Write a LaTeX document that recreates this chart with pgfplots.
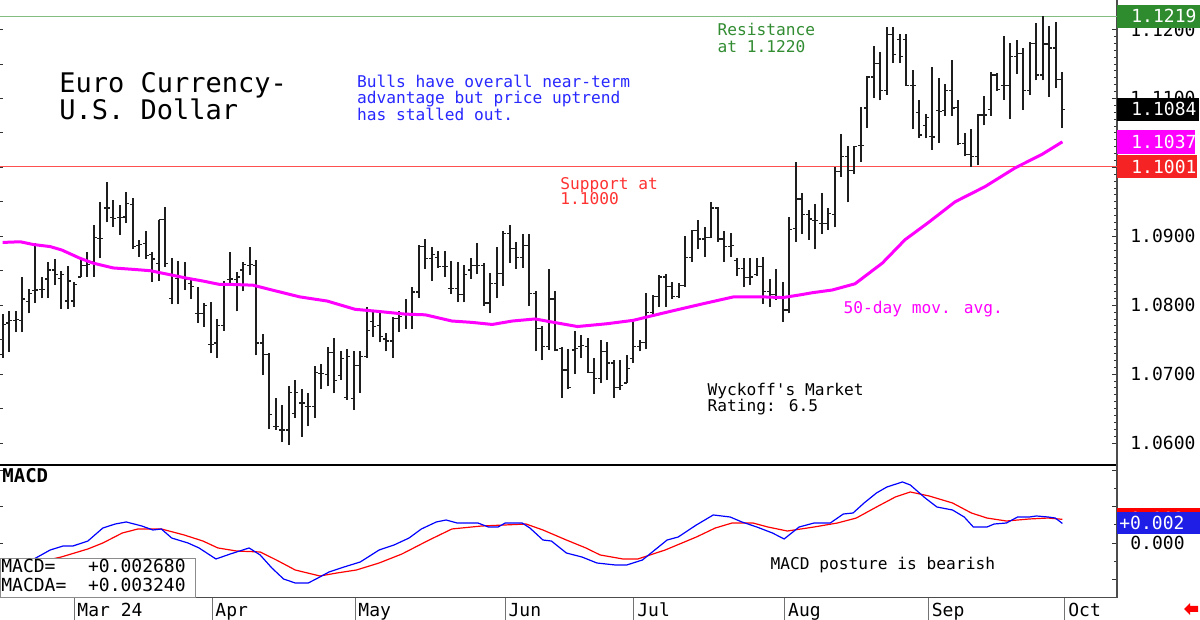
\documentclass[border=0pt]{standalone}
\usepackage{fontspec}
\usepackage{pgfplots}
\usepackage{pgfplotstable}
\pgfplotsset{compat=1.18}
\newfontfamily\chartfont{DejaVu Sans Mono}
\newcommand{\fA}{\chartfont\fontsize{8.1pt}{9pt}\selectfont}
\newcommand{\fT}{\chartfont\fontsize{13.5pt}{15pt}\selectfont}
\newcommand{\fL}{\chartfont\fontsize{9pt}{10pt}\selectfont}
\definecolor{resline}{RGB}{130,190,130}
\definecolor{restext}{RGB}{50,140,50}
\definecolor{resbox}{RGB}{46,139,46}
\definecolor{supline}{RGB}{255,80,80}
\definecolor{suptext}{RGB}{255,50,50}
\definecolor{supbox}{RGB}{245,35,35}
\definecolor{mavg}{RGB}{255,0,255}
\definecolor{bluetext}{RGB}{40,40,255}
\definecolor{macdblue}{RGB}{0,0,255}
\definecolor{macdred}{RGB}{255,0,0}
\definecolor{macdbox}{RGB}{30,30,230}
\definecolor{barcol}{RGB}{30,30,30}

% daily bars: index, open, high, low, close
\pgfplotstableread{
i o h l c
0 1.0728 1.0787 1.0724 1.0772
1 1.0774 1.0791 1.0732 1.0778
2 1.0778 1.0791 1.0761 1.0779
3 1.0778 1.0841 1.0761 1.0809
4 1.0805 1.0824 1.0788 1.0817
5 1.0821 1.0890 1.0803 1.0822
6 1.0823 1.0841 1.0810 1.0823
7 1.0838 1.0862 1.0811 1.0851
8 1.0851 1.0867 1.0829 1.0845
9 1.0839 1.0849 1.0795 1.0844
10 1.0806 1.0857 1.0795 1.0835
11 1.0806 1.0834 1.0798 1.0830
12 1.0841 1.0868 1.0841 1.0857
13 1.0857 1.0877 1.0841 1.0859
14 1.0863 1.0916 1.0841 1.0898
15 1.0897 1.0950 1.0868 1.0897
16 1.0941 1.0979 1.0920 1.0941
17 1.0927 1.0953 1.0914 1.0926
18 1.0927 1.0945 1.0902 1.0927
19 1.0928 1.0964 1.0919 1.0948
20 1.0946 1.0955 1.0882 1.0885
21 1.0887 1.0895 1.0870 1.0888
22 1.0890 1.0908 1.0867 1.0872
23 1.0873 1.0877 1.0834 1.0867
24 1.0861 1.0924 1.0835 1.0924
25 1.0924 1.0942 1.0856 1.0861
26 1.0810 1.0869 1.0801 1.0844
27 1.0839 1.0864 1.0801 1.0840
28 1.0839 1.0863 1.0822 1.0838
29 1.0832 1.0839 1.0809 1.0827
30 1.0788 1.0827 1.0774 1.0788
31 1.0788 1.0803 1.0769 1.0799
32 1.0743 1.0804 1.0730 1.0743
33 1.0745 1.0780 1.0723 1.0770
34 1.0770 1.0835 1.0763 1.0832
35 1.0837 1.0877 1.0832 1.0838
36 1.0837 1.0848 1.0791 1.0841
37 1.0851 1.0862 1.0820 1.0859
38 1.0858 1.0885 1.0844 1.0859
39 1.0858 1.0866 1.0727 1.0745
40 1.0745 1.0758 1.0699 1.0728
41 1.0728 1.0730 1.0620 1.0641
42 1.0624 1.0665 1.0619 1.0624
43 1.0619 1.0655 1.0601 1.0619
44 1.0619 1.0682 1.0597 1.0673
45 1.0643 1.0691 1.0636 1.0673
46 1.0658 1.0679 1.0609 1.0658
47 1.0653 1.0672 1.0624 1.0653
48 1.0653 1.0712 1.0637 1.0702
49 1.0701 1.0715 1.0678 1.0701
50 1.0699 1.0739 1.0682 1.0731
51 1.0731 1.0752 1.0672 1.0691
52 1.0698 1.0734 1.0692 1.0723
53 1.0666 1.0737 1.0663 1.0725
54 1.0665 1.0733 1.0648 1.0713
55 1.0713 1.0733 1.0673 1.0726
56 1.0725 1.0798 1.0724 1.0763
57 1.0776 1.0793 1.0754 1.0769
58 1.0771 1.0788 1.0746 1.0754
59 1.0751 1.0759 1.0733 1.0748
60 1.0748 1.0783 1.0723 1.0781
61 1.0781 1.0791 1.0761 1.0783
62 1.0788 1.0809 1.0766 1.0787
63 1.0788 1.0827 1.0766 1.0819
64 1.0819 1.0887 1.0811 1.0885
65 1.0885 1.0896 1.0853 1.0868
66 1.0868 1.0884 1.0835 1.0874
67 1.0869 1.0878 1.0854 1.0856
68 1.0856 1.0878 1.0841 1.0856
69 1.0824 1.0864 1.0816 1.0824
70 1.0824 1.0863 1.0804 1.0816
71 1.0815 1.0858 1.0804 1.0844
72 1.0851 1.0868 1.0838 1.0858
73 1.0858 1.0890 1.0845 1.0858
74 1.0858 1.0861 1.0799 1.0803
75 1.0803 1.0846 1.0788 1.0832
76 1.0832 1.0884 1.0810 1.0846
77 1.0846 1.0907 1.0828 1.0904
78 1.0904 1.0916 1.0861 1.0882
79 1.0882 1.0892 1.0853 1.0869
80 1.0869 1.0903 1.0854 1.0887
81 1.0887 1.0903 1.0799 1.0817
82 1.0817 1.0820 1.0733 1.0766
83 1.0766 1.0770 1.0720 1.0740
84 1.0740 1.0853 1.0735 1.0809
85 1.0809 1.0820 1.0733 1.0735
86 1.0737 1.0739 1.0666 1.0706
87 1.0706 1.0737 1.0679 1.0681
88 1.0735 1.0762 1.0700 1.0737
89 1.0740 1.0757 1.0723 1.0742
90 1.0740 1.0752 1.0702 1.0702
91 1.0702 1.0723 1.0671 1.0694
92 1.0694 1.0749 1.0687 1.0733
93 1.0733 1.0746 1.0692 1.0716
94 1.0716 1.0720 1.0665 1.0681
95 1.0681 1.0720 1.0677 1.0684
96 1.0687 1.0728 1.0687 1.0708
97 1.0723 1.0775 1.0716 1.0740
98 1.0740 1.0749 1.0733 1.0746
99 1.0746 1.0818 1.0736 1.0789
100 1.0789 1.0815 1.0783 1.0812
101 1.0812 1.0844 1.0798 1.0841
102 1.0841 1.0845 1.0798 1.0827
103 1.0827 1.0834 1.0809 1.0812
104 1.0812 1.0832 1.0810 1.0829
105 1.0829 1.0900 1.0827 1.0869
106 1.0869 1.0909 1.0863 1.0908
107 1.0908 1.0924 1.0881 1.0896
108 1.0896 1.0914 1.0870 1.0898
109 1.0898 1.0949 1.0897 1.0941
110 1.0941 1.0942 1.0892 1.0896
111 1.0896 1.0907 1.0863 1.0885
112 1.0885 1.0904 1.0870 1.0887
113 1.0865 1.0868 1.0842 1.0853
114 1.0853 1.0868 1.0826 1.0840
115 1.0840 1.0869 1.0829 1.0841
116 1.0844 1.0869 1.0842 1.0856
117 1.0856 1.0870 1.0802 1.0820
118 1.0820 1.0838 1.0798 1.0815
119 1.0815 1.0852 1.0808 1.0811
120 1.0811 1.0833 1.0776 1.0793
121 1.0793 1.0928 1.0788 1.0910
122 1.0911 1.1008 1.0892 1.0954
123 1.0954 1.0963 1.0903 1.0932
124 1.0932 1.0938 1.0895 1.0925
125 1.0923 1.0947 1.0881 1.0923
126 1.0919 1.0963 1.0903 1.0919
127 1.0919 1.0941 1.0909 1.0933
128 1.0932 1.1001 1.0913 1.0994
129 1.0994 1.1048 1.0986 1.1016
130 1.1016 1.1031 1.0949 1.0995
131 1.0995 1.1031 1.0990 1.1030
132 1.1032 1.1088 1.1008 1.1032
133 1.1086 1.1132 1.1057 1.1131
134 1.1131 1.1176 1.1100 1.1151
135 1.1151 1.1168 1.1097 1.1112
136 1.1112 1.1204 1.1105 1.1193
137 1.1193 1.1204 1.1151 1.1164
138 1.1186 1.1193 1.1151 1.1161
139 1.1186 1.1193 1.1118 1.1119
140 1.1119 1.1141 1.1055 1.1119
141 1.1079 1.1098 1.1043 1.1047
142 1.1061 1.1078 1.1042 1.1072
143 1.1045 1.1145 1.1025 1.1044
144 1.1083 1.1129 1.1036 1.1081
145 1.1083 1.1121 1.1075 1.1112
146 1.1112 1.1156 1.1075 1.1086
147 1.1087 1.1098 1.1032 1.1035
148 1.1035 1.1050 1.1016 1.1019
149 1.1019 1.1055 1.1001 1.1016
150 1.1016 1.1077 1.1003 1.1076
151 1.1076 1.1103 1.1061 1.1076
152 1.1084 1.1139 1.1075 1.1134
153 1.1134 1.1137 1.1111 1.1113
154 1.1119 1.1191 1.1098 1.1119
155 1.1119 1.1181 1.1070 1.1161
156 1.1161 1.1185 1.1136 1.1165
157 1.1165 1.1173 1.1083 1.1112
158 1.1112 1.1182 1.1105 1.1180
159 1.1180 1.1209 1.1126 1.1134
160 1.1134 1.1219 1.1126 1.1179
161 1.1179 1.1205 1.1102 1.1173
162 1.1173 1.1211 1.1115 1.1128
163 1.1128 1.1139 1.1057 1.1084
}\bars

% 50-day moving average
\pgfplotstableread{
x y
0 1.0891
2.7 1.0892
4.7 1.0888
7.3 1.0885
9.1 1.0880
11.9 1.0868
13.9 1.0861
17.0 1.0854
20.0 1.0852
22.7 1.0850
25.3 1.0845
28.4 1.0839
30.8 1.0835
33.4 1.0830
35.4 1.0830
38.5 1.0829
41.0 1.0823
45.7 1.0812
49.9 1.0806
54.2 1.0794
57.7 1.0791
61.9 1.0787
65.0 1.0786
69.1 1.0777
72.2 1.0775
75.3 1.0772
78.4 1.0777
81.9 1.0780
84.2 1.0776
88.4 1.0769
92.9 1.0773
97.0 1.0778
99.6 1.0784
102.7 1.0791
107.7 1.0802
112.4 1.0812
117.0 1.0812
120.0 1.0811
122.7 1.0815
124.5 1.0818
127.6 1.0822
131.1 1.0831
135.3 1.0861
138.8 1.0895
142.4 1.0920
146.5 1.0950
151.1 1.0972
155.7 1.0999
159.9 1.1019
163.0 1.1037
}\mavg

% MACD line
\pgfplotstableread{
x y
0 -0.00420
2.5 -0.00330
5.1 -0.00205
7.3 -0.00096
9.3 -0.00041
10.8 -0.00041
13.1 0.00027
15.4 0.00205
17.3 0.00260
19.0 0.00288
21.4 0.00233
23.1 0.00178
24.4 0.00192
26.0 0.00068
28.5 0.00000
30.2 -0.00068
32.8 -0.00219
35.0 -0.00151
37.9 -0.00068
39.6 -0.00164
41.4 -0.00342
43.2 -0.00493
45.0 -0.00548
47.0 -0.00548
48.5 -0.00479
50.2 -0.00397
52.5 -0.00329
55.0 -0.00260
57.9 -0.00096
60.2 -0.00027
62.5 0.00068
64.4 0.00192
66.7 0.00288
68.2 0.00315
69.9 0.00274
73.1 0.00274
74.7 0.00219
76.2 0.00219
77.3 0.00274
79.9 0.00274
81.1 0.00205
83.1 0.00041
84.4 0.00027
86.7 -0.00137
89.1 -0.00192
91.4 -0.00274
94.2 -0.00301
96.0 -0.00301
98.4 -0.00233
102.2 0.00041
103.9 0.00082
106.7 0.00247
109.3 0.00384
111.9 0.00356
113.7 0.00288
116.0 0.00219
118.4 0.00137
120.2 0.00055
122.5 0.00219
124.8 0.00274
127.3 0.00274
129.3 0.00397
130.8 0.00411
132.5 0.00548
134.4 0.00685
136.0 0.00767
138.4 0.00836
139.6 0.00795
141.9 0.00616
143.7 0.00493
146.1 0.00452
147.9 0.00356
149.3 0.00219
151.4 0.00219
152.5 0.00260
154.4 0.00274
156.1 0.00356
157.9 0.00356
159.0 0.00370
160.8 0.00356
161.9 0.00342
163.0 0.00268
}\macd

% MACD average (signal) line
\pgfplotstableread{
x y
0 -0.00360
5.0 -0.00270
9.0 -0.00192
13.1 -0.00082
15.4 0.00000
18.4 0.00137
20.8 0.00192
24.4 0.00192
27.9 0.00110
30.8 0.00027
33.1 -0.00068
36.0 -0.00110
39.6 -0.00123
42.1 -0.00233
45.0 -0.00370
48.8 -0.00452
51.4 -0.00411
54.4 -0.00370
57.9 -0.00274
61.4 -0.00151
65.6 0.00041
69.1 0.00192
73.7 0.00233
77.3 0.00247
80.5 0.00260
83.1 0.00178
86.7 0.00041
89.7 -0.00068
91.9 -0.00164
95.4 -0.00219
97.7 -0.00219
101.9 -0.00096
106.7 0.00082
109.6 0.00205
112.2 0.00274
115.4 0.00274
117.7 0.00219
120.7 0.00164
124.8 0.00219
128.4 0.00274
131.3 0.00342
134.4 0.00493
137.3 0.00630
139.6 0.00699
142.5 0.00644
146.1 0.00548
149.0 0.00411
151.4 0.00342
154.4 0.00301
157.9 0.00329
160.8 0.00342
163.0 0.00324
}\macda

\begin{document}
\begin{tikzpicture}
\useasboundingbox (0,0) rectangle (600pt,310pt);
\fill[white] (0,0) rectangle (600pt,310pt);

% ---------------- price panel ----------------
\begin{axis}[
  at={(0pt,77.5pt)}, anchor=south west,
  scale only axis, width=558.5pt, height=232.5pt,
  xmin=-0.415, xmax=171.4, ymin=1.05681, ymax=1.12428,
  axis x line*=bottom, axis y line*=right,
  x axis line style={line width=1pt, black},
  y axis line style={line width=0.8pt, black!70},
  xtick=\empty,
  ytick={1.06,1.07,1.08,1.09,1.10,1.11,1.12},
  minor y tick num=9,
  tick align=inside,
  major tick length=2.5pt, minor tick length=1.5pt,
  tick style={black!80, line width=0.4pt},
  /pgf/number format/assume math mode=true,
  yticklabel style={font=\fL, anchor=west, inner sep=0pt, xshift=6.5pt,
    /pgf/number format/fixed, /pgf/number format/fixed zerofill,
    /pgf/number format/precision=4},
  clip=false,
]
% resistance and support levels
\addplot[resline, line width=0.6pt] coordinates {(-0.415,1.1219) (171.4,1.1219)};
\addplot[supline, line width=0.6pt] coordinates {(-0.415,1.1001) (171.4,1.1001)};
% high-low range, open tick, close tick
\addplot[barcol, line width=1pt, quiver={u=0, v=\thisrow{h}-\thisrow{l}}]
  table[x=i, y=l] {\bars};
\addplot[barcol, line width=0.6pt, quiver={u=-0.46, v=0}] table[x=i, y=o] {\bars};
\addplot[barcol, line width=0.6pt, quiver={u=0.46, v=0}] table[x=i, y=c] {\bars};
% moving average
\addplot[mavg, line width=1.5pt] table[x=x, y=y] {\mavg};
% left edge ticks
\pgfplotsinvokeforeach{1.060,1.065,1.070,1.075,1.080,1.085,1.090,1.095,1.100,1.105,1.110,1.115,1.120}{
  \draw[black!80, line width=0.4pt] (axis cs:-0.415,#1) -- ([xshift=1.5pt]axis cs:-0.415,#1);
}
\coordinate (c1219) at (axis cs:171.4,1.1219);
\coordinate (c1084) at (axis cs:171.4,1.1084);
\coordinate (c1037) at (axis cs:171.4,1.1037);
\coordinate (c1001) at (axis cs:171.4,1.1001);
\end{axis}

% ---------------- MACD panel ----------------
\begin{axis}[
  at={(0pt,11pt)}, anchor=south west,
  scale only axis, width=558.5pt, height=66.5pt,
  xmin=-0.415, xmax=171.4, ymin=-0.007534, ymax=0.010685,
  axis x line*=bottom, axis y line*=right,
  x axis line style={line width=0.5pt, black!70},
  y axis line style={line width=0.8pt, black!70},
  xtick={10.97,32.2,54.2,77.3,97.1,120.3,142.4,163.4},
  xticklabels={Mar 24,Apr,May,Jun,Jul,Aug,Sep,Oct},
  xtick style={draw=none},
  xticklabel style={font=\fL, anchor=north west, inner sep=0pt, xshift=1.5pt, yshift=-2.4pt},
  ytick={-0.005,0,0.005,0.01},
  yticklabels={,0.000,,},
  minor y tick num=1,
  scaled y ticks=false,
  tick align=inside,
  major tick length=2.5pt, minor tick length=1.5pt,
  ytick style={black!80, line width=0.4pt},
  yticklabel style={font=\fL, anchor=west, inner sep=0pt, xshift=6.5pt},
  clip=false,
]
\addplot[macdred, line width=0.6pt] table[x=x, y=y] {\macda};
\addplot[macdblue, line width=0.6pt] table[x=x, y=y] {\macd};
% month separators below the panel
\pgfplotsinvokeforeach{10.97,32.2,54.2,77.3,97.1,120.3,142.4,163.4}{
  \draw[black!55, line width=0.5pt] (axis cs:#1,-0.007534) -- ([yshift=-11pt]axis cs:#1,-0.007534);
}
\pgfplotsinvokeforeach{-0.005,0,0.005,0.01}{
  \draw[black!80, line width=0.4pt] (axis cs:-0.415,#1) -- ([xshift=1.5pt]axis cs:-0.415,#1);
}
\coordinate (m324) at (axis cs:171.4,0.00324);
\coordinate (m268) at (axis cs:171.4,0.00268);
\end{axis}

% ---------------- value tags on the right ----------------
\fill[resbox] ([yshift=-5.9pt]c1219) rectangle ([xshift=41.5pt,yshift=5.9pt]c1219);
\node[anchor=west, inner sep=0pt, text=white, font=\fL] at ([xshift=7pt]c1219) {1.1219};
\fill[black] ([yshift=-5.9pt]c1084) rectangle ([xshift=41pt,yshift=5.9pt]c1084);
\node[anchor=west, inner sep=0pt, text=white, font=\fL] at ([xshift=7pt]c1084) {1.1084};
\fill[mavg] ([yshift=-5.9pt]c1037) rectangle ([xshift=39pt,yshift=5.9pt]c1037);
\node[anchor=west, inner sep=0pt, text=white, font=\fL] at ([xshift=7pt]c1037) {1.1037};
\fill[supbox] ([yshift=-5.9pt]c1001) rectangle ([xshift=40pt,yshift=5.9pt]c1001);
\node[anchor=west, inner sep=0pt, text=white, font=\fL] at ([xshift=7pt]c1001) {1.1001};

\fill[macdred] ([yshift=-5.5pt]m324) rectangle ([xshift=41.5pt,yshift=5.5pt]m324);
\node[anchor=west, inner sep=0pt, text=white, font=\fL] at ([xshift=1pt]m324) {+0.003};
\fill[macdbox] ([yshift=-5.5pt]m268) rectangle ([xshift=41.5pt,yshift=5.5pt]m268);
\node[anchor=west, inner sep=0pt, text=white, font=\fL] at ([xshift=1pt]m268) {+0.002};

% ---------------- annotations ----------------
\node[anchor=base west, inner sep=0pt, font=\fT] at (29.5pt,263.5pt) {Euro Currency-};
\node[anchor=base west, inner sep=0pt, font=\fT] at (29.5pt,250.25pt) {U.S. Dollar};

\node[anchor=base west, inner sep=0pt, font=\fA, text=bluetext] at (178.35pt,266.25pt) {Bulls have overall near-term};
\node[anchor=base west, inner sep=0pt, font=\fA, text=bluetext] at (178.35pt,258.1pt) {advantage but price uptrend};
\node[anchor=base west, inner sep=0pt, font=\fA, text=bluetext] at (178.35pt,249.95pt) {has stalled out.};

\node[anchor=base west, inner sep=0pt, font=\fA, text=restext] at (358.65pt,292pt) {Resistance};
\node[anchor=base west, inner sep=0pt, font=\fA, text=restext] at (358.65pt,283.65pt) {at 1.1220};

\node[anchor=base west, inner sep=0pt, font=\fA, text=suptext] at (280pt,215.25pt) {Support at};
\node[anchor=base west, inner sep=0pt, font=\fA, text=suptext] at (280pt,207.5pt) {1.1000};

\node[anchor=base west, inner sep=0pt, font=\fA] at (353.65pt,112pt) {Wyckoff\textquotesingle s Market};
\node[anchor=base west, inner sep=0pt, font=\fA] at (353.65pt,104.15pt) {Rating: 6.5};

\node[anchor=base west, inner sep=0pt, font=\fA, text=mavg] at (421.65pt,153pt) {50-day mov. avg.};

\node[anchor=base west, inner sep=0pt, font=\fA] at (385.15pt,25.35pt) {MACD posture is bearish};

\node[anchor=base west, inner sep=0pt, font=\chartfont\bfseries\fontsize{9.5pt}{10pt}\selectfont] at (1pt,68.65pt) {MACD};

% MACD readout box
\filldraw[fill=white, draw=black!45, line width=0.5pt] (0,11pt) rectangle (97.5pt,30.85pt);
\node[anchor=base west, inner sep=0pt, font=\fL] at (0.5pt,23.65pt) {MACD=\ \ \ +0.002680};
\node[anchor=base west, inner sep=0pt, font=\fL] at (0.5pt,14.15pt) {MACDA=\ \ +0.003240};

% small red arrow at bottom right
\fill[macdred] (592pt,5.5pt) -- (595pt,8.5pt) -- (595pt,7pt) -- (599pt,7pt) -- (599pt,4pt) -- (595pt,4pt) -- (595pt,2.5pt) -- cycle;
\end{tikzpicture}
\end{document}
